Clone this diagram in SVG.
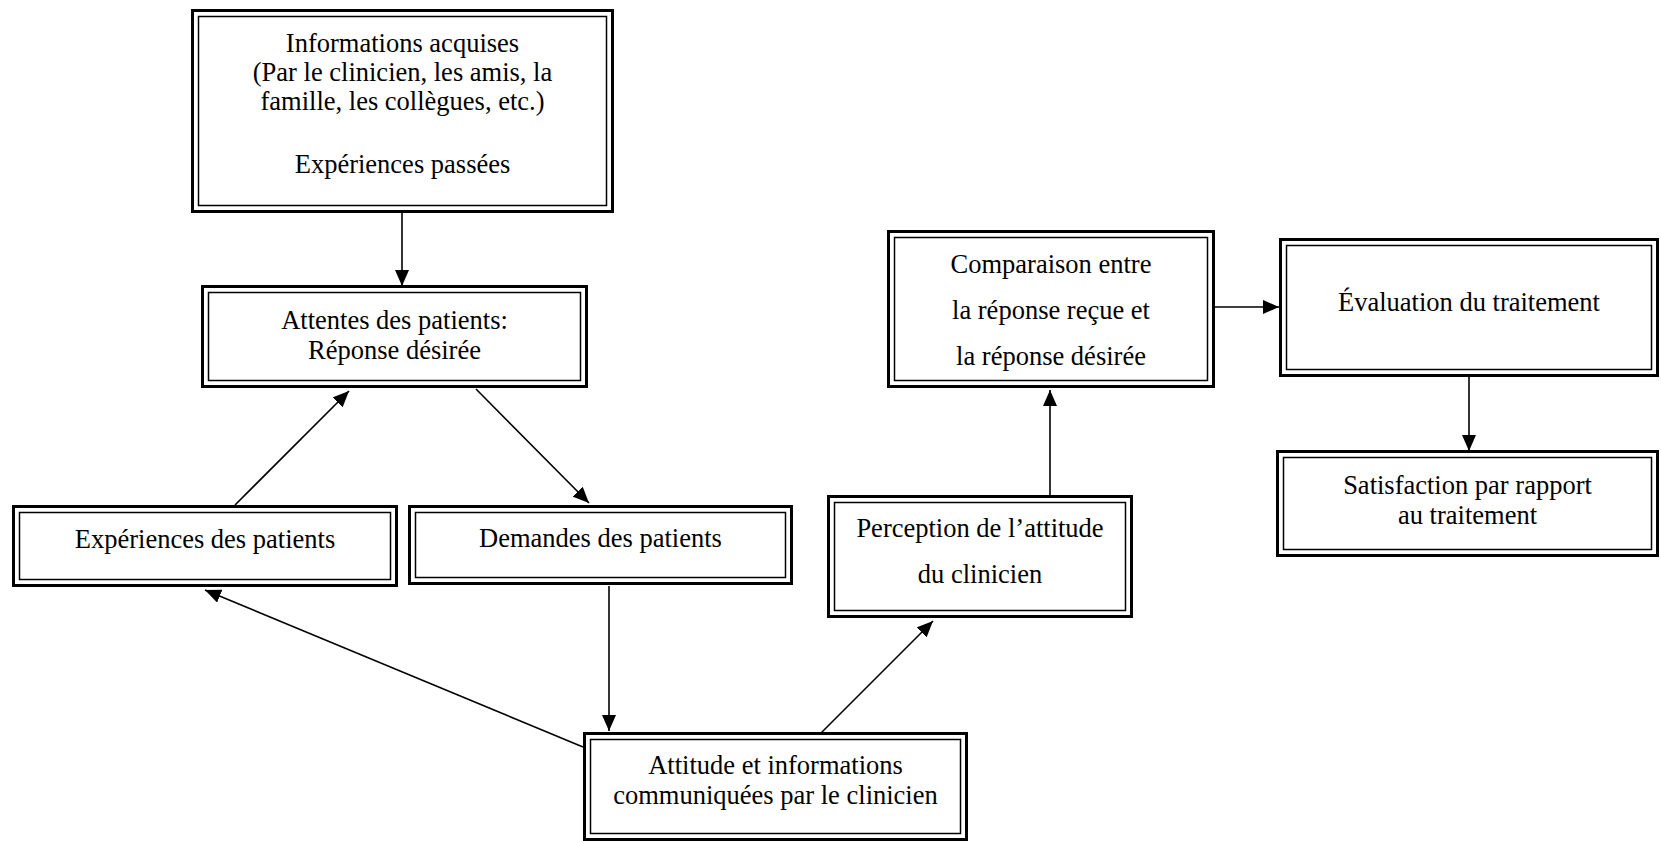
<svg xmlns="http://www.w3.org/2000/svg" width="1661" height="843" viewBox="0 0 1661 843">
<style>
.o{fill:#fff;stroke:#000;stroke-width:3}
.i{fill:none;stroke:#000;stroke-width:1.5}
.t{font-family:"Liberation Serif","Times New Roman",serif;font-size:26.5px;text-anchor:middle;fill:#000}
.c{stroke:#000;stroke-width:1.6;fill:none;marker-end:url(#a)}
</style>
<defs>
<marker id="a" markerUnits="userSpaceOnUse" markerWidth="17" markerHeight="14" refX="16" refY="7" orient="auto">
<path d="M0,0 L16,7 L0,14 z" fill="#000"/>
</marker>
</defs>
<rect width="1661" height="843" fill="#fff"/>
<g id="connectors">
<line class="c" x1="402" y1="213" x2="402" y2="286"/>
<line class="c" x1="235" y1="505" x2="349" y2="391"/>
<line class="c" x1="476" y1="389" x2="589" y2="503"/>
<line class="c" x1="609" y1="586" x2="609" y2="731"/>
<line class="c" x1="583" y1="747" x2="205" y2="590"/>
<line class="c" x1="821" y1="733" x2="933" y2="621"/>
<line class="c" x1="1050" y1="495" x2="1050" y2="390"/>
<line class="c" x1="1215" y1="307" x2="1279" y2="307"/>
<line class="c" x1="1469" y1="377" x2="1469" y2="451"/>
</g>
<g id="informations">
<rect class="o" x="192.5" y="10.5" width="420" height="201"/>
<rect class="i" x="198.5" y="16.5" width="408" height="189"/>
<text class="t" x="402.5"><tspan x="402.5" y="52">Informations acquises</tspan><tspan x="402.5" y="81">(Par le clinicien, les amis, la</tspan><tspan x="402.5" y="110">famille, les collègues, etc.)</tspan><tspan x="402.5" y="173">Expériences passées</tspan></text>
</g>
<g id="attentes">
<rect class="o" x="202.5" y="286.5" width="384" height="100"/>
<rect class="i" x="208.5" y="292.5" width="372" height="88"/>
<text class="t"><tspan x="394.5" y="328.5">Attentes des patients:</tspan><tspan x="394.5" y="358.5">Réponse désirée</tspan></text>
</g>
<g id="experiences">
<rect class="o" x="13.5" y="506.5" width="383" height="79"/>
<rect class="i" x="19.5" y="512.5" width="371" height="67"/>
<text class="t" x="205" y="548">Expériences des patients</text>
</g>
<g id="demandes">
<rect class="o" x="409.5" y="506.5" width="382" height="77"/>
<rect class="i" x="415.5" y="512.5" width="370" height="65"/>
<text class="t" x="600.5" y="547">Demandes des patients</text>
</g>
<g id="perception">
<rect class="o" x="828.5" y="496.5" width="303" height="120"/>
<rect class="i" x="834.5" y="502.5" width="291" height="108"/>
<text class="t"><tspan x="980" y="537">Perception de l’attitude</tspan><tspan x="980" y="583">du clinicien</tspan></text>
</g>
<g id="attitude">
<rect class="o" x="584.5" y="733.5" width="382" height="106"/>
<rect class="i" x="590.5" y="739.5" width="370" height="94"/>
<text class="t"><tspan x="775.5" y="774">Attitude et informations</tspan><tspan x="775.5" y="804">communiquées par le clinicien</tspan></text>
</g>
<g id="comparaison">
<rect class="o" x="888.5" y="231.5" width="325" height="155"/>
<rect class="i" x="894.5" y="237.5" width="313" height="143"/>
<text class="t"><tspan x="1051" y="273">Comparaison entre</tspan><tspan x="1051" y="319">la réponse reçue et</tspan><tspan x="1051" y="365">la réponse désirée</tspan></text>
</g>
<g id="evaluation">
<rect class="o" x="1280.5" y="239.5" width="377" height="136"/>
<rect class="i" x="1286.5" y="245.5" width="365" height="124"/>
<text class="t" x="1469" y="311">Évaluation du traitement</text>
</g>
<g id="satisfaction">
<rect class="o" x="1277.5" y="451.5" width="380" height="104"/>
<rect class="i" x="1283.5" y="457.5" width="368" height="92"/>
<text class="t"><tspan x="1467.5" y="494">Satisfaction par rapport</tspan><tspan x="1467.5" y="524">au traitement</tspan></text>
</g>
</svg>
